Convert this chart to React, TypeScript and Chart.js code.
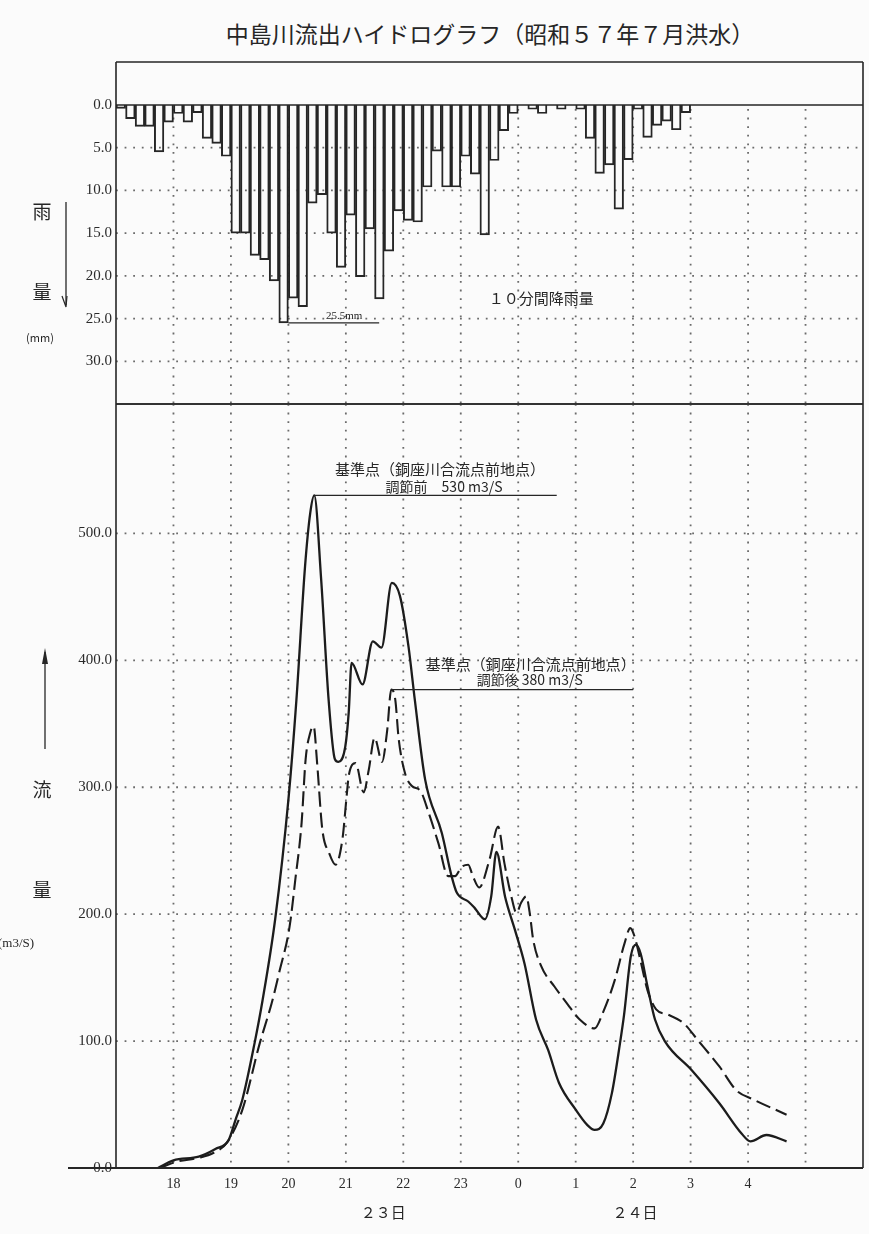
import React, { useEffect, useRef } from "react";
import { Chart, registerables } from "chart.js";

Chart.register(...registerables);

// ---------------- data ----------------
const titleText = "中島川流出ハイドログラフ（昭和５７年７月洪水）";
const gridHours = [18, 19, 20, 21, 22, 23, 24, 25, 26, 27, 28, 29];
const hourLabels = ["18", "19", "20", "21", "22", "23", "0", "1", "2", "3", "4", ""];
const dayLabels = ["２３日", "２４日"];
const dayLabelHours = [21.65, 26.03];

const rainStartHour = 17;
const rainStepHours = 1 / 6;
// 10-minute rainfall (mm), 23rd 17:00 -> 24th 03:00
const rainMm = [
  0.4, 1.6, 2.5, 2.5, 5.5, 2.0, 1.0, 2.0, 0.9, 3.9, 4.5, 6.0,
  15.0, 15.0, 17.6, 18.1, 20.6, 25.5, 22.6, 23.6, 11.5, 10.5, 15.0, 19.0,
  12.9, 20.1, 14.5, 22.7, 17.1, 12.4, 13.5, 13.7, 9.6, 5.4, 9.6, 9.6,
  6.0, 8.1, 15.2, 6.5, 3.0, 1.0, 0, 0.5, 1.0, 0, 0.5, 0,
  0.5, 3.9, 8.0, 7.0, 12.2, 6.4, 0.5, 3.8, 2.4, 1.9, 2.9, 0.9,
];
const rainTicks = [0, 5, 10, 15, 20, 25, 30];
const flowTicks = [0, 100, 200, 300, 400, 500];

// 調節前 (before regulation) – solid
const beforeHours = [
  17.73, 18.0, 18.44, 18.73, 18.96, 19.08, 19.2, 19.41, 19.55, 19.77, 20.0, 20.14,
  20.29, 20.38, 20.45, 20.57, 20.7, 20.81, 20.87, 20.99, 21.05, 21.1, 21.29, 21.47,
  21.62, 21.8, 21.94, 22.09, 22.2, 22.38, 22.67, 22.84, 22.93, 23.13, 23.24, 23.42,
  23.53, 23.62, 23.77, 23.94, 24.11, 24.31, 24.52, 24.71, 25.0, 25.2, 25.33, 25.48,
  25.63, 25.77, 25.84, 25.96, 26.05, 26.13, 26.25, 26.38, 26.55, 27.02, 27.5, 27.89,
  28.04, 28.32, 28.67,
];
const beforeFlow = [
  0, 6, 9, 15, 22, 38, 54, 98, 132, 196, 290, 369,
  474, 516, 530, 464, 369, 322, 320, 332, 359, 398, 381, 415,
  410, 461, 451, 411, 369, 306, 264, 230, 217, 210, 205, 196,
  214, 249, 214, 188, 161, 117, 93, 67, 46, 34, 30, 35,
  59, 98, 120, 167, 176, 169, 143, 117, 100, 77, 51, 27,
  21, 26, 21,
];

// 調節後 (after regulation) – dashed
const afterHours = [
  17.76, 18.06, 18.44, 18.7, 18.93, 19.2, 19.5, 19.71, 19.84, 20.02, 20.12, 20.23,
  20.3, 20.38, 20.44, 20.5, 20.59, 20.71, 20.82, 20.94, 21.02, 21.05, 21.17, 21.31,
  21.4, 21.5, 21.63, 21.72, 21.79, 21.86, 21.92, 22.03, 22.15, 22.3, 22.44, 22.61,
  22.78, 22.9, 23.01, 23.13, 23.21, 23.32, 23.5, 23.65, 23.76, 23.88, 23.97, 24.05,
  24.14, 24.2, 24.26, 24.4, 24.63, 24.86, 25.07, 25.33, 25.47, 25.68, 25.85, 25.95,
  26.02, 26.14, 26.25, 26.4, 26.6, 26.88, 27.12, 27.5, 27.8, 28.09, 28.67,
];
const afterFlow = [
  0, 5, 8, 12, 20, 46, 98, 130, 154, 190, 227, 272,
  322, 343, 348, 319, 267, 248, 239, 259, 296, 309, 319, 296,
  314, 339, 320, 345, 377, 369, 338, 311, 301, 297, 280, 256,
  230, 230, 237, 239, 230, 221, 243, 269, 240, 214, 201, 209,
  214, 201, 180, 159, 143, 129, 117, 110, 122, 148, 177, 189,
  183, 161, 140, 125, 121, 114, 101, 80, 61, 54, 42,
];

const noteStation = "基準点（銅座川合流点前地点）";
const noteBefore = "調節前　530 m3/S";
const noteAfter = "調節後 380 m3/S";
const noteRainPeak = "25.5mm";
const noteRain = "１０分間降雨量";

// ---------------- styling helpers ----------------
const INK = "#262626";
const DOT = "#6b6b6b";
const SERIF = '"Liberation Serif", "DejaVu Serif", serif';
const JP = '"Noto Sans CJK JP", "Noto Sans", sans-serif';
const FRAME_TOP = 62;
const AXIS_EXT_LEFT = 68;

function dotted(ctx: CanvasRenderingContext2D, x1: number, y1: number, x2: number, y2: number) {
  ctx.save();
  ctx.strokeStyle = DOT;
  ctx.lineWidth = 1.8;
  ctx.setLineDash([1.8, 6.8]);
  ctx.beginPath();
  ctx.moveTo(x1, y1);
  ctx.lineTo(x2, y2);
  ctx.stroke();
  ctx.restore();
}

function solid(ctx: CanvasRenderingContext2D, x1: number, y1: number, x2: number, y2: number, w = 1.5) {
  ctx.save();
  ctx.strokeStyle = INK;
  ctx.lineWidth = w;
  ctx.setLineDash([]);
  ctx.beginPath();
  ctx.moveTo(x1, y1);
  ctx.lineTo(x2, y2);
  ctx.stroke();
  ctx.restore();
}

function text(ctx: CanvasRenderingContext2D, s: string, x: number, y: number, font: string, align: CanvasTextAlign = "center") {
  ctx.save();
  ctx.fillStyle = INK;
  ctx.font = font;
  ctx.textAlign = align;
  ctx.textBaseline = "middle";
  ctx.fillText(s, x, y);
  ctx.restore();
}

const rainDecor = {
  id: "rainDecor",
  beforeDatasetsDraw(chart: any) {
    const { ctx, chartArea: a, scales } = chart;
    const x = scales.x, y = scales.y;
    rainTicks.forEach((v) => {
      if (v > 0) dotted(ctx, a.left, y.getPixelForValue(v), a.right, y.getPixelForValue(v));
    });
    gridHours.forEach((h) => {
      const px = x.getPixelForValue(h);
      dotted(ctx, px, a.top + 4, px, a.bottom);
    });
  },
  afterDatasetsDraw(chart: any) {
    const { ctx, chartArea: a, scales } = chart;
    const x = scales.x, y = scales.y;
    // frame
    solid(ctx, a.left, FRAME_TOP, a.right, FRAME_TOP, 1.6);
    solid(ctx, a.left, FRAME_TOP, a.left, a.bottom, 1.6);
    solid(ctx, a.right, FRAME_TOP, a.right, a.bottom, 1.6);
    solid(ctx, a.left, y.getPixelForValue(0), a.right, y.getPixelForValue(0), 1.4);
    solid(ctx, a.left, a.bottom, a.right, a.bottom, 1.6);
    // 25.5mm note
    const maxV = Math.max(...rainMm);
    const iMax = rainMm.indexOf(maxV);
    const x1 = x.getPixelForValue(rainStartHour + (iMax + 1) * rainStepHours);
    const x2 = x.getPixelForValue(21.58);
    const yy = y.getPixelForValue(maxV);
    solid(ctx, x1, yy, x2, yy, 1.2);
    text(ctx, noteRainPeak, x.getPixelForValue(20.97), yy - 7, `11px ${SERIF}`);
    text(ctx, noteRain, x.getPixelForValue(24.4), y.getPixelForValue(22.6), `15px ${JP}`);
  },
};

const flowDecor = {
  id: "flowDecor",
  beforeDatasetsDraw(chart: any) {
    const { ctx, chartArea: a, scales } = chart;
    const x = scales.x, y = scales.y;
    flowTicks.forEach((v) => {
      if (v > 0) dotted(ctx, a.left, y.getPixelForValue(v), a.right, y.getPixelForValue(v));
    });
    gridHours.forEach((h) => {
      const px = x.getPixelForValue(h);
      dotted(ctx, px, a.top, px, a.bottom);
    });
  },
  afterDatasetsDraw(chart: any) {
    const { ctx, chartArea: a, scales } = chart;
    const x = scales.x, y = scales.y;
    solid(ctx, a.left, a.top, a.left, a.bottom, 1.6);
    solid(ctx, a.right, a.top, a.right, a.bottom, 1.6);
    solid(ctx, a.left, a.top, a.right, a.top, 1.6);
    solid(ctx, AXIS_EXT_LEFT, y.getPixelForValue(0), a.right, y.getPixelForValue(0), 1.8);

    // peak annotations
    const pb = Math.max(...beforeFlow);
    const hb = beforeHours[beforeFlow.indexOf(pb)];
    const yb = y.getPixelForValue(pb);
    solid(ctx, x.getPixelForValue(hb), yb, x.getPixelForValue(24.67), yb, 1.3);
    text(ctx, noteStation, x.getPixelForValue(22.64), yb - 26, `15px ${JP}`);
    text(ctx, noteBefore, x.getPixelForValue(22.71), yb - 9, `14px ${JP}`);

    const pa = Math.max(...afterFlow);
    const ha = afterHours[afterFlow.indexOf(pa)];
    const ya = y.getPixelForValue(pa);
    solid(ctx, x.getPixelForValue(ha), ya, x.getPixelForValue(26.0), ya, 1.3);
    text(ctx, noteStation, x.getPixelForValue(24.22), ya - 25, `15px ${JP}`);
    text(ctx, noteAfter, x.getPixelForValue(24.2), ya - 10, `14px ${JP}`);

    // day labels
    dayLabels.forEach((d, i) => {
      text(ctx, d, x.getPixelForValue(dayLabelHours[i]), a.bottom + 44, `15px ${JP}`);
    });
  },
};

const tickFont = { family: SERIF, size: 15 };

function rainConfig(): any {
  return {
    type: "bar",
    data: {
      datasets: [
        {
          data: rainMm.map((v, i) => ({ x: rainStartHour + (i + 0.5) * rainStepHours, y: v })),
          backgroundColor: "rgba(255,255,255,0)",
          borderColor: INK,
          borderWidth: 1.3,
          borderSkipped: "start",
          barPercentage: 1,
          categoryPercentage: 1,
        },
      ],
    },
    options: {
      animation: false,
      responsive: false,
      maintainAspectRatio: false,
      layout: { padding: { top: 105, right: 6, bottom: 16, left: 0 } },
      plugins: { legend: { display: false }, tooltip: { enabled: false }, title: { display: false } },
      scales: {
        x: {
          type: "linear",
          min: 17,
          max: 30,
          offset: false,
          grid: { display: false, drawTicks: false, offset: false },
          border: { display: false },
          ticks: { display: false },
          afterFit: (s: any) => {
            s.height = 0;
          },
        },
        y: {
          type: "linear",
          reverse: true,
          min: 0,
          max: 35,
          grid: { display: false, drawTicks: false },
          border: { display: false },
          afterBuildTicks: (s: any) => {
            s.ticks = rainTicks.map((v) => ({ value: v }));
          },
          ticks: {
            autoSkip: false,
            padding: 4,
            color: "#2a2a2a",
            font: tickFont,
            callback: (v: number) => Number(v).toFixed(1),
          },
          afterFit: (s: any) => {
            s.width = 116;
          },
        },
      },
    },
    plugins: [rainDecor],
  };
}

function flowConfig(): any {
  return {
    type: "line",
    data: {
      datasets: [
        {
          data: beforeHours.map((h, i) => ({ x: h, y: beforeFlow[i] })),
          borderColor: "#1c1c1c",
          borderWidth: 2.3,
          pointRadius: 0,
          fill: false,
          cubicInterpolationMode: "monotone",
        },
        {
          data: afterHours.map((h, i) => ({ x: h, y: afterFlow[i] })),
          borderColor: "#1c1c1c",
          borderWidth: 2.1,
          borderDash: [15, 6],
          pointRadius: 0,
          fill: false,
          cubicInterpolationMode: "monotone",
        },
      ],
    },
    options: {
      animation: false,
      responsive: false,
      maintainAspectRatio: false,
      layout: { padding: { top: 404, right: 6, bottom: 36, left: 0 } },
      plugins: { legend: { display: false }, tooltip: { enabled: false }, title: { display: false } },
      scales: {
        x: {
          type: "linear",
          min: 17,
          max: 30,
          grid: { display: false, drawTicks: false },
          border: { display: false },
          afterBuildTicks: (s: any) => {
            s.ticks = gridHours.map((v) => ({ value: v }));
          },
          ticks: {
            autoSkip: false,
            maxRotation: 0,
            padding: 8,
            color: "#2a2a2a",
            font: { family: SERIF, size: 14 },
            callback: (v: number) => {
              const i = gridHours.indexOf(Number(v));
              return i >= 0 ? hourLabels[i] : "";
            },
          },
          afterFit: (s: any) => {
            s.height = 30;
          },
        },
        y: {
          type: "linear",
          min: 0,
          max: 602,
          grid: { display: false, drawTicks: false },
          border: { display: false },
          afterBuildTicks: (s: any) => {
            s.ticks = flowTicks.map((v) => ({ value: v }));
          },
          ticks: {
            autoSkip: false,
            padding: 4,
            color: "#2a2a2a",
            font: tickFont,
            callback: (v: number) => Number(v).toFixed(1),
          },
          afterFit: (s: any) => {
            s.width = 116;
          },
        },
      },
    },
    plugins: [flowDecor],
  };
}

const labelStyle = (left: number, top: number, size: number): React.CSSProperties => ({
  position: "absolute",
  left,
  top,
  fontSize: size,
  fontFamily: JP,
  color: INK,
  lineHeight: 1,
  transform: "translate(-50%, -50%)",
  whiteSpace: "nowrap",
});

export default function App() {
  const rainRef = useRef<HTMLCanvasElement>(null);
  const flowRef = useRef<HTMLCanvasElement>(null);

  useEffect(() => {
    document.body.style.margin = "0";
    document.body.style.background = "#fbfbfb";
    const rc = new Chart(rainRef.current as HTMLCanvasElement, rainConfig());
    const fc = new Chart(flowRef.current as HTMLCanvasElement, flowConfig());
    return () => {
      rc.destroy();
      fc.destroy();
    };
  }, []);

  return (
    <div style={{ position: "relative", width: 869, height: 1234, overflow: "hidden", background: "#fbfbfb" }}>
      <div style={labelStyle(490, 33, 23)}>{titleText}</div>
      <canvas ref={rainRef} width={869} height={420} style={{ position: "absolute", left: 0, top: 0, width: 869, height: 420 }} />
      <canvas ref={flowRef} width={869} height={1234} style={{ position: "absolute", left: 0, top: 0, width: 869, height: 1234 }} />

      <div style={labelStyle(42, 210, 19)}>雨</div>
      <div style={labelStyle(42, 290, 19)}>量</div>
      <div style={labelStyle(40, 337, 11)}>(mm)</div>
      <svg width={869} height={1234} style={{ position: "absolute", left: 0, top: 0, pointerEvents: "none" }}>
        <line x1={66} y1={202} x2={66} y2={305} stroke={INK} strokeWidth={1.3} />
        <polyline points="62,296 66,307 67,296" fill="none" stroke={INK} strokeWidth={1.2} />
        <line x1={45} y1={652} x2={45} y2={749} stroke={INK} strokeWidth={1.3} />
        <polygon points="42,664 45,648 48,664" fill={INK} />
      </svg>
      <div style={labelStyle(42, 788, 19)}>流</div>
      <div style={labelStyle(42, 888, 19)}>量</div>
      <div style={{ ...labelStyle(0, 942, 13), transform: "translate(-2px, -50%)", fontFamily: SERIF }}>(m3/S)</div>
    </div>
  );
}
